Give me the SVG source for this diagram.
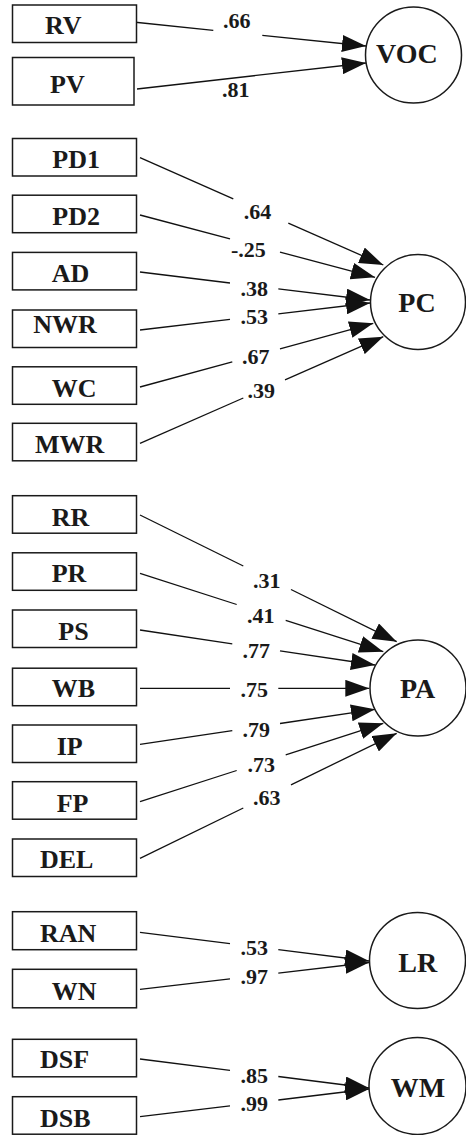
<svg xmlns="http://www.w3.org/2000/svg" width="466" height="1135" viewBox="0 0 466 1135">
<style>
.box{fill:#fff;stroke:#1a1a1a;stroke-width:1.5}
.lat{fill:#fff;stroke:#1a1a1a;stroke-width:1.5}
.bt{font-family:"Liberation Serif","Times New Roman",serif;font-weight:bold;font-size:26px;fill:#1a1a1a}
.ct{font-family:"Liberation Serif","Times New Roman",serif;font-weight:bold;font-size:28px;fill:#1a1a1a}
.nt{font-family:"Liberation Serif","Times New Roman",serif;font-weight:bold;font-size:22px;fill:#1a1a1a;text-anchor:middle}
.ln{fill:none;stroke:#111;stroke-width:1.3}
.ar{marker-end:url(#ah)}
</style>
<defs>
<marker id="ah" markerUnits="userSpaceOnUse" markerWidth="24" markerHeight="17" refX="24" refY="8.5" orient="auto">
<path d="M0,0 L24,8.5 L0,17 Z" fill="#111"/>
</marker>
</defs>
<rect width="466" height="1135" fill="#fff"/>

<g id="connectors">
<path class="ln" d="M133,22 L213.3,30.3"/><path class="ln ar" d="M262.3,35.3 L366,46"/>
<path class="ln ar" d="M137,89 L366,63"/>

<path class="ln" d="M140,157.7 L233.3,198.9"/><path class="ln ar" d="M288.3,223.1 L383.3,265"/>
<path class="ln" d="M140,215 L230,238.9"/><path class="ln ar" d="M280,252.1 L375,277.3"/>
<path class="ln" d="M140,272 L230,283"/><path class="ln ar" d="M278.3,288.8 L370,300"/>
<path class="ln" d="M140,330 L230,319.4"/><path class="ln ar" d="M278.3,313.8 L370,303"/>
<path class="ln" d="M140,387 L232.3,361.8"/><path class="ln ar" d="M280,348.8 L373.3,323.3"/>
<path class="ln" d="M140,443.3 L243.3,398"/><path class="ln ar" d="M285,379.8 L383.3,336.7"/>

<path class="ln" d="M140,515 L243.3,566"/><path class="ln ar" d="M291,589.5 L396.7,641.7"/>
<path class="ln" d="M140,573.3 L236.7,604.5"/><path class="ln ar" d="M285.7,620.3 L383.3,651.7"/>
<path class="ln" d="M140,630 L232.3,643.8"/><path class="ln ar" d="M280,650.9 L375,665"/>
<path class="ln" d="M140,688.3 L230,688.3"/><path class="ln ar" d="M278.3,688.3 L369.3,688.3"/>
<path class="ln" d="M140,744.3 L232.3,730.6"/><path class="ln ar" d="M280,723.5 L375,709.3"/>
<path class="ln" d="M140,801.7 L236.7,770.5"/><path class="ln ar" d="M285.7,754.8 L383.3,723.3"/>
<path class="ln" d="M140,858.3 L243.3,808"/><path class="ln ar" d="M291,784.8 L396.7,733.3"/>

<path class="ln" d="M140,932.3 L230,943.6"/><path class="ln ar" d="M278.3,949.6 L369,961"/>
<path class="ln" d="M140,989.3 L230,978.8"/><path class="ln ar" d="M278.3,973.1 L369,962.5"/>
<path class="ln" d="M140,1059 L230,1070.4"/><path class="ln ar" d="M278.3,1076.5 L369,1088"/>
<path class="ln" d="M140,1116.7 L230,1105.8"/><path class="ln ar" d="M278.3,1100 L369,1089"/>

<text class="nt" x="236.7" y="28.3">.66</text>
<text class="nt" x="235.8" y="96.7">.81</text>
<text class="nt" x="257.5" y="219.3">.64</text>
<text class="nt" x="248.3" y="256.7">-.25</text>
<text class="nt" x="254.2" y="295.7">.38</text>
<text class="nt" x="254.2" y="324.3">.53</text>
<text class="nt" x="255.8" y="364.3">.67</text>
<text class="nt" x="261.3" y="398.3">.39</text>
<text class="nt" x="266.7" y="588.3">.31</text>
<text class="nt" x="260.8" y="622.7">.41</text>
<text class="nt" x="256.2" y="657.7">.77</text>
<text class="nt" x="254.2" y="697.3">.75</text>
<text class="nt" x="256.2" y="736.7">.79</text>
<text class="nt" x="261.3" y="772.3">.73</text>
<text class="nt" x="266.7" y="805">.63</text>
<text class="nt" x="254.2" y="955">.53</text>
<text class="nt" x="254.2" y="984">.97</text>
<text class="nt" x="254.2" y="1083.3">.85</text>
<text class="nt" x="254.2" y="1111">.99</text>
</g>

<g id="RV"><rect class="box" x="12.5" y="5" width="124" height="37.5"/><text class="bt" x="45" y="34.3">RV</text></g>
<g id="PV"><rect class="box" x="12.5" y="57.5" width="121.5" height="47.5"/><text class="bt" x="50" y="92.7">PV</text></g>
<g id="VOC"><circle class="lat" cx="413.5" cy="55" r="48"/><text class="ct" x="376" y="63.3">VOC</text></g>

<g id="PD1"><rect class="box" x="12.5" y="138.5" width="124" height="37.5"/><text class="bt" x="52.3" y="168.3">PD1</text></g>
<g id="PD2"><rect class="box" x="12.5" y="195.2" width="124" height="37.5"/><text class="bt" x="52.3" y="225">PD2</text></g>
<g id="AD"><rect class="box" x="12.5" y="252.4" width="124" height="37.5"/><text class="bt" x="51.7" y="281.7">AD</text></g>
<g id="NWR"><rect class="box" x="12.5" y="310" width="124" height="37.5"/><text class="bt" x="33.3" y="333.3">NWR</text></g>
<g id="WC"><rect class="box" x="12.5" y="366.8" width="124" height="37.5"/><text class="bt" x="51.7" y="396.7">WC</text></g>
<g id="MWR"><rect class="box" x="12.5" y="423.3" width="124" height="37.5"/><text class="bt" x="35" y="453.3">MWR</text></g>
<g id="PC"><circle class="lat" cx="418" cy="302" r="47.5"/><text class="ct" x="398.3" y="311.7">PC</text></g>

<g id="RR"><rect class="box" x="12.5" y="495.7" width="124" height="37.5"/><text class="bt" x="51.7" y="525.7">RR</text></g>
<g id="PR"><rect class="box" x="12.5" y="552.8" width="124" height="37.5"/><text class="bt" x="51.7" y="582.3">PR</text></g>
<g id="PS"><rect class="box" x="12.5" y="610" width="124" height="37.5"/><text class="bt" x="58.3" y="640">PS</text></g>
<g id="WB"><rect class="box" x="12.5" y="668.2" width="124" height="37.5"/><text class="bt" x="51.7" y="697.3">WB</text></g>
<g id="IP"><rect class="box" x="12.5" y="725" width="124" height="37.5"/><text class="bt" x="56.7" y="755">IP</text></g>
<g id="FP"><rect class="box" x="12.5" y="781.7" width="124" height="37.5"/><text class="bt" x="56.7" y="811.7">FP</text></g>
<g id="DEL"><rect class="box" x="12.5" y="839" width="124" height="37.5"/><text class="bt" x="40" y="868.3">DEL</text></g>
<g id="PA"><circle class="lat" cx="418" cy="688" r="48"/><text class="ct" x="400" y="698.3">PA</text></g>

<g id="RAN"><rect class="box" x="12.5" y="911.7" width="124" height="38"/><text class="bt" x="40" y="941.7">RAN</text></g>
<g id="WN"><rect class="box" x="12.5" y="969.3" width="124" height="38.5"/><text class="bt" x="51.7" y="1000">WN</text></g>
<g id="LR"><circle class="lat" cx="417.5" cy="960.5" r="48"/><text class="ct" x="398.3" y="971.7">LR</text></g>

<g id="DSF"><rect class="box" x="12.5" y="1039.3" width="124" height="37.5"/><text class="bt" x="40" y="1068.3">DSF</text></g>
<g id="DSB"><rect class="box" x="12.5" y="1096.7" width="124" height="37.5"/><text class="bt" x="40" y="1126.7">DSB</text></g>
<g id="WM"><circle class="lat" cx="417.5" cy="1086" r="48.5"/><text class="ct" x="390.7" y="1097.3">WM</text></g>
</svg>
